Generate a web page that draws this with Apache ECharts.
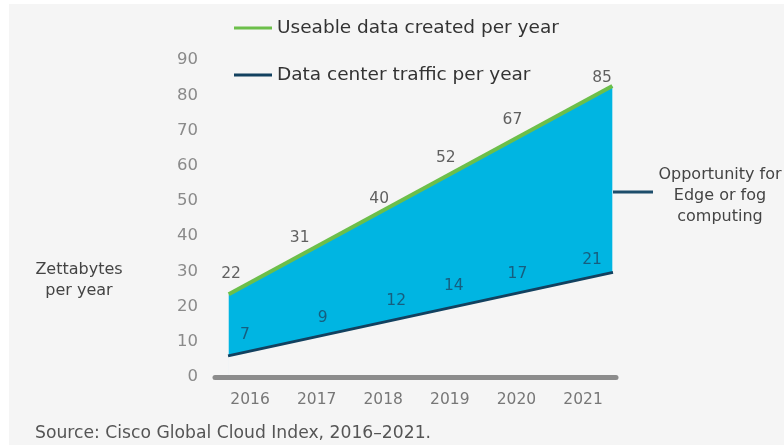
<!DOCTYPE html>
<html>
<head>
<meta charset="utf-8">
<script src="https://cdn.jsdelivr.net/npm/echarts@6/dist/echarts.min.js"></script>
<style>
  html, body { margin: 0; padding: 0; background: #fff; }
  #main { width: 784px; height: 445px; background: #f5f5f5; box-shadow: inset 9px 4px 0 0 #fff; }
</style>
</head>
<body>
<div id="main"></div>
<script>
// values printed on the chart
const years = [2016, 2017, 2018, 2019, 2020, 2021]
const useableData = [22, 31, 40, 52, 67, 85]
const trafficData = [7, 9, 12, 14, 17, 21]
const yTicks = [0, 10, 20, 30, 40, 50, 60, 70, 80, 90]

// the two drawn lines, read at their ends
const useableYears = [2015.68, 2021.44]
const useableLine = [23.5, 82.6]
const trafficYears = [2015.67, 2021.45]
const trafficLine = [6.0, 29.7]

const font = 'DejaVu Sans'
const bg = '#f5f5f5'
const green = '#6cbf4a'
const navy = '#12415f'
const blue = '#00b5e2'

// label nudges so the numbers sit where the original has them
const useableShift = [[-19, -26], [-17, -30], [-4, -37], [-4, -36], [-4, -21], [19, 0]]
const trafficShift = [[-5, -17], [6, -27], [13, -34], [4, -42], [1, -43], [9, -43]]

function labelData(vals, shift) {
  return years.map((y, i) => ({
    value: [y, vals[i]],
    label: { offset: shift[i] }
  }))
}

let myChart = echarts.init(document.getElementById('main'))
let option = {
  animation: false,
  grid: { left: 215, right: 168, top: 60, bottom: 68 },
  legend: {
    orient: 'vertical',
    left: 229,
    top: 13,
    itemGap: 27,
    icon: 'rect',
    itemWidth: 38,
    itemHeight: 3,
    selectedMode: false,
    data: ['Useable data created per year', 'Data center traffic per year'],
    textStyle: { fontFamily: font, fontSize: 18.5, color: '#333', lineHeight: 20 }
  },
  xAxis: {
    type: 'value',
    min: 2015.474,
    max: 2021.495,
    z: 5,
    splitLine: { show: false },
    axisTick: { show: false },
    axisLine: { show: true, lineStyle: { color: '#8c8c8c', width: 5 } },
    axisLabel: {
      customValues: years,
      formatter: v => String(v),
      margin: 15,
      fontFamily: font,
      fontSize: 15.5,
      color: '#777'
    }
  },
  yAxis: {
    type: 'value',
    min: 0,
    max: 90,
    interval: 10,
    splitLine: { show: false },
    axisTick: { show: false },
    axisLine: { show: false },
    axisLabel: {
      customValues: yTicks,
      margin: 17,
      fontFamily: font,
      fontSize: 16.5,
      color: '#8a8a8a'
    }
  },
  series: [
    {
      // blue band: filled down to 0, the part under the traffic line is painted over below
      name: 'Useable data created per year',
      type: 'line',
      symbol: 'none',
      color: green,
      lineStyle: { color: green, width: 4 },
      areaStyle: { color: blue, opacity: 1 },
      data: useableYears.map((y, i) => [y, useableLine[i]]),
      z: 2
    },
    {
      name: 'Data center traffic per year',
      type: 'line',
      symbol: 'none',
      color: navy,
      lineStyle: { color: navy, width: 3 },
      areaStyle: { color: bg, opacity: 1 },
      data: trafficYears.map((y, i) => [y, trafficLine[i]]),
      z: 3
    },
    {
      name: 'useable labels',
      type: 'scatter',
      symbolSize: 0,
      z: 6,
      label: { show: true, position: 'inside', formatter: p => p.value[1], fontFamily: font, fontSize: 15.5, color: '#3a3a3a' },
      data: labelData(useableData, useableShift)
    },
    {
      name: 'traffic labels',
      type: 'scatter',
      symbolSize: 0,
      z: 6,
      label: { show: true, position: 'inside', formatter: p => p.value[1], fontFamily: font, fontSize: 15.5, color: '#1c4966' },
      data: labelData(trafficData, trafficShift)
    }
  ],
  graphic: [
    {
      type: 'text',
      x: 79,
      y: 280,
      style: { text: 'Zettabytes\nper year', fontFamily: font, fontSize: 16, lineHeight: 21, fill: '#444', align: 'center', verticalAlign: 'middle' }
    },
    {
      type: 'line',
      shape: { x1: 613, y1: 192, x2: 653, y2: 192 },
      style: { stroke: '#1d4d6b', lineWidth: 3 }
    },
    {
      type: 'text',
      x: 720,
      y: 196,
      style: { text: 'Opportunity for\nEdge or fog\ncomputing', fontFamily: font, fontSize: 16, lineHeight: 21, fill: '#444', align: 'center', verticalAlign: 'middle' }
    },
    {
      type: 'text',
      x: 35,
      y: 434,
      style: { text: 'Source: Cisco Global Cloud Index, 2016\u20132021.', fontFamily: font, fontSize: 17.2, fill: '#555', verticalAlign: 'middle' }
    }
  ]
}
myChart.setOption(option)
</script>
</body>
</html>
